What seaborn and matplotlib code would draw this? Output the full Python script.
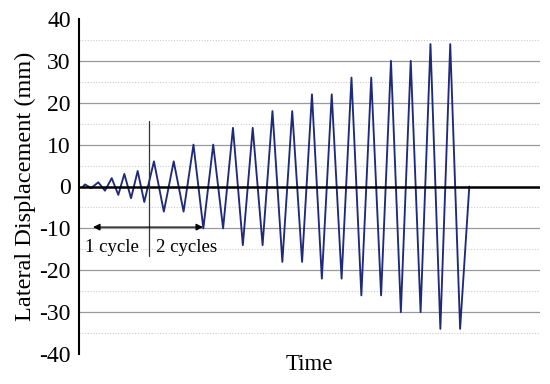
import matplotlib
matplotlib.use("Agg")
import matplotlib.pyplot as plt
import seaborn as sns
import pandas as pd

# Time (arbitrary units, one unit = half cycle of the large cycles)
time = [0.0, 0.2, 0.81, 1.54, 2.22, 2.9, 3.57, 4.18, 4.86, 5.53, 6.2,
        7.18, 8.18, 9.18, 10.18, 11.18, 12.18, 13.18, 14.18, 15.18, 16.18,
        17.18, 18.18, 19.18, 20.18, 21.18, 22.18, 23.18, 24.18, 25.18, 26.18,
        27.18, 28.18, 29.18, 30.18, 31.18, 32.18, 33.18, 34.18, 35.18, 36.18,
        37.18, 38.18, 39.11]
# Lateral displacement (mm)
displacement = [0, 0.5, -0.4, 1, -1, 2, -2, 3, -2.8, 3.7, -3.7,
                6, -6, 6, -6, 10, -10, 10, -10, 14, -14,
                14, -14, 18, -18, 18, -18, 22, -22, 22, -22,
                26, -26, 26, -26, 30, -30, 30, -30, 34, -34,
                34, -34, 0]

y_ticks = [-40, -30, -20, -10, 0, 10, 20, 30, 40]
major_grid = [-30, -20, -10, 10, 20, 30]
minor_grid = [-35, -25, -15, -5, 5, 15, 25, 35]

df = pd.DataFrame({"Time": time, "Displacement": displacement})

sns.set_style("white")
plt.rcParams["font.family"] = ["Liberation Serif", "DejaVu Serif"]
plt.rcParams["text.color"] = "black"
plt.rcParams["axes.labelcolor"] = "black"
plt.rcParams["ytick.color"] = "black"

fig = plt.figure(figsize=(5.5, 3.84), dpi=100)
ax = fig.add_axes([79 / 550, 1 - 354 / 384, (540 - 79) / 550, (354 - 19) / 384])

for g in major_grid:
    ax.axhline(g, color="#9a9a9a", lw=0.9, zorder=0)
for g in minor_grid:
    ax.axhline(g, color="#cccccc", lw=0.8, ls=(0, (1, 1.5)), zorder=0)
ax.axhline(0, color="black", lw=1.8, zorder=3)

sns.lineplot(data=df, x="Time", y="Displacement", sort=False, estimator=None,
             color="#1f2b7a", lw=1.35, ax=ax, zorder=2)

ax.set_xlim(-0.41, 46.27)
ax.set_ylim(-40, 40)
ax.set_yticks(y_ticks)
ax.set_yticklabels([str(t) for t in y_ticks])
ax.set_xticks([])
ax.tick_params(axis="y", length=0, pad=6, labelsize=17, labelcolor="black")

for s in ["top", "right", "bottom"]:
    ax.spines[s].set_visible(False)
ax.spines["left"].set_linewidth(1.5)
ax.spines["left"].set_color("black")

ax.set_xlabel("Time", fontsize=16.5, labelpad=0, color="black")
ax.set_ylabel("Lateral Displacement (mm)", fontsize=17.5, labelpad=2, color="black")

# annotation
ax.plot([6.68, 6.68], [15.6, -16.5], color="#333333", lw=0.9, zorder=4)
ax.annotate("", xy=(1.01, -9.7), xytext=(12.15, -9.7),
            arrowprops=dict(arrowstyle="<|-|>", color="black", lw=0.9,
                            mutation_scale=10, shrinkA=0, shrinkB=0), zorder=4)
ax.text(0.2, -14.6, "1 cycle", fontsize=13.5, ha="left", va="center", color="black")
ax.text(7.39, -14.6, "2 cycles", fontsize=13.5, ha="left", va="center", color="black")

fig.savefig("out.png", dpi=100)
